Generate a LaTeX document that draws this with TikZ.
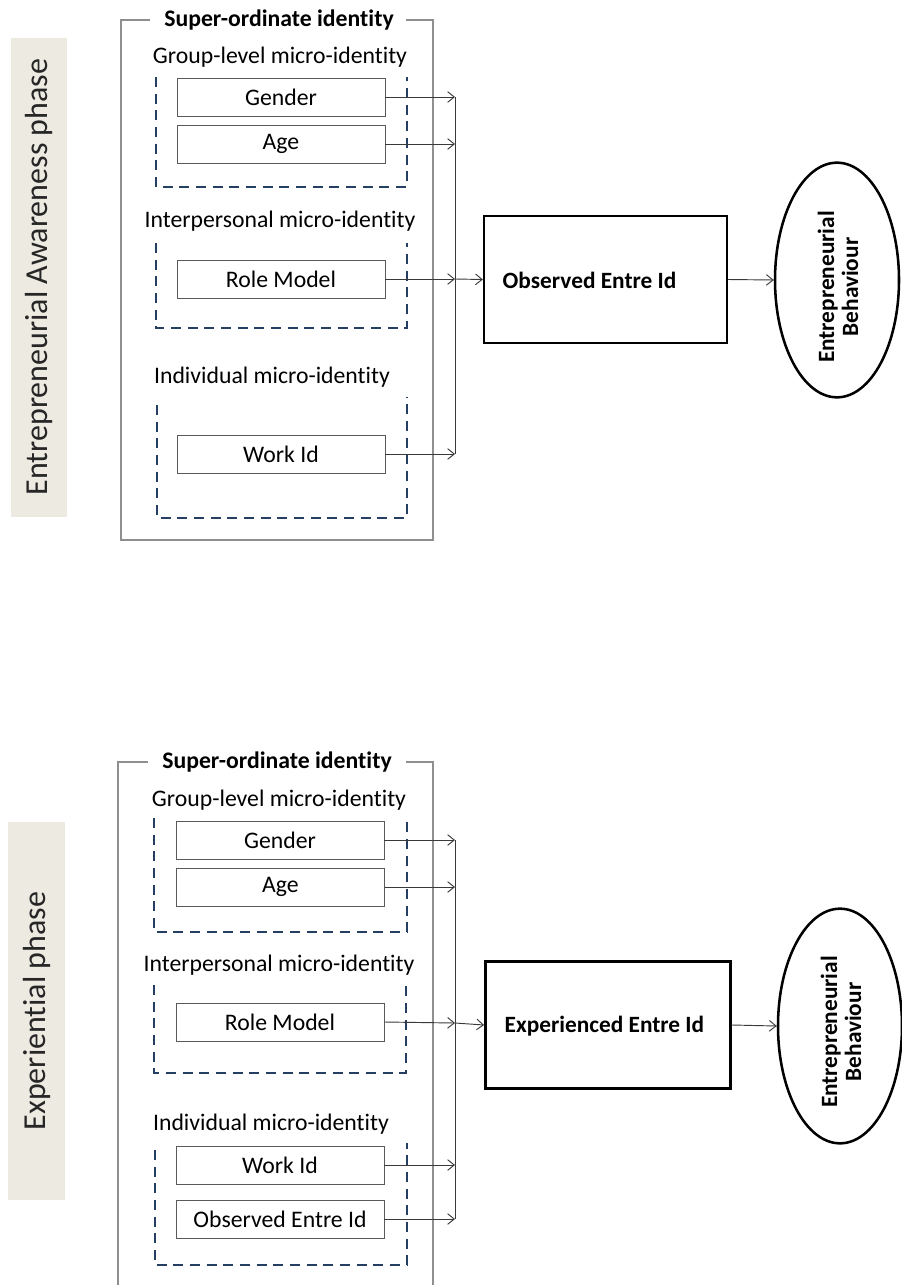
\documentclass[tikz,border=0pt]{standalone}
\usepackage{fontspec}
\setmainfont{Carlito}[Ligatures=NoCommon]
\usetikzlibrary{arrows.meta,shapes.geometric}
\definecolor{phasebg}{HTML}{ECEAE1}
\definecolor{outergrey}{HTML}{8F8F8F}
\definecolor{dashblue}{HTML}{243F62}
\definecolor{boxgrey}{HTML}{5A5A5A}
\definecolor{arrowgrey}{HTML}{3A3A3A}
\tikzset{
  phasebox/.style={fill=phasebg, draw=none},
  phasetext/.style={rotate=90, font=\fontsize{24}{28}\selectfont, text=black!85},
  outerline/.style={draw=outergrey, line width=1.4pt},
  titletext/.style={font=\fontsize{17.8}{21}\selectfont\bfseries},
  grouptext/.style={font=\fontsize{17.8}{21}\selectfont},
  dashline/.style={draw=dashblue, line width=1.5pt, dash pattern=on 7.5pt off 5pt},
  itembox/.style={draw=boxgrey, line width=0.7pt, minimum width=156pt, minimum height=28.5pt, inner sep=0pt, font=\fontsize{17.8}{21}\selectfont},
  conn/.style={draw=arrowgrey, line width=0.7pt, -{Straight Barb[length=5pt,width=8pt]}},
  plainconn/.style={draw=arrowgrey, line width=0.7pt},
  idbox/.style={draw=black, line width=1.9pt, minimum width=182pt, minimum height=95pt, inner sep=0pt},
  idtext/.style={font=\fontsize{17.5}{20}\selectfont\bfseries, anchor=west},
  behav/.style={draw=black, line width=1.9pt, ellipse, minimum width=93pt, minimum height=176pt, inner sep=0pt},
  behavtext/.style={rotate=90, font=\fontsize{17.5}{18}\selectfont\bfseries, align=center}
}
\begin{document}
\begin{tikzpicture}[x=0.75pt,y=-0.75pt]
\useasboundingbox (0,0) rectangle (901,1285);
% ================= TOP PANEL =================
\fill[phasebox] (11,38) rectangle (67,517);
\node[phasetext] (p1) at (39,277) {Entrepreneurial Awareness phase};
\draw[outerline] (150,20) -- (121,20) -- (121,540) -- (433,540) -- (433,20) -- (406,20);
\node[titletext] (t1) at (279,20) {Super-ordinate identity};
\node[grouptext] (g1) at (280,57) {Group-level micro-identity};
\draw[dashline] (156,77) -- (156,187) -- (407,187) -- (407,77);
\node[itembox] (gen1) at (281,97) {Gender};
\node[itembox] (age1) at (281,144) {Age};
\node[grouptext] (ip1) at (280,221) {Interpersonal micro-identity};
\draw[dashline] (156,243) -- (156,328) -- (407,328) -- (407,243);
\node[itembox] (rm1) at (281,279) {Role Model};
\node[grouptext] (ind1) at (272,377) {Individual micro-identity};
\draw[dashline] (157,405) -- (157,518) -- (407,518) -- (407,397);
\node[itembox] (wk1) at (281,454) {Work Id};
\coordinate (ja1) at (455,97);
\coordinate (jb1) at (455,144);
\coordinate (jc1) at (455,279);
\coordinate (jd1) at (455,454);
\draw[conn] (gen1.east) -- (ja1);
\draw[conn] (age1.east) -- (jb1);
\draw[conn] (rm1.east) -- (jc1);
\draw[conn] (wk1.east) -- (jd1);
\draw[plainconn] (ja1) -- (jd1);
\node[idbox] (obs) at (605.5,279.5) {};
\node[idtext] (obst) at (498,280) {Observed Entre Id};
\draw[conn] (jc1) -- (obs.west);
\node[behav] (eb1) at (837,280) {};
\node[behavtext] (eb1t) at (838,287) {Entrepreneurial\\Behaviour};
\draw[conn] (obs.east) -- (eb1.west);
% ================= BOTTOM PANEL =================
\fill[phasebox] (8,822) rectangle (65,1200);
\node[phasetext] (p2) at (37,1011) {Experiential phase};
\draw[outerline] (148,762) -- (118,762) -- (118,1292);
\draw[outerline] (433,1292) -- (433,762) -- (406,762);
\node[titletext] (t2) at (277,762) {Super-ordinate identity};
\node[grouptext] (g2) at (279,800) {Group-level micro-identity};
\draw[dashline] (154,818) -- (154,932) -- (407,932) -- (407,818);
\node[itembox] (gen2) at (280,840) {Gender};
\node[itembox] (age2) at (280.5,887) {Age};
\node[grouptext] (ip2) at (279,965) {Interpersonal micro-identity};
\draw[dashline] (154,985) -- (154,1073) -- (406,1073) -- (406,985);
\node[itembox] (rm2) at (280,1022) {Role Model};
\node[grouptext] (ind2) at (271,1124) {Individual micro-identity};
\draw[dashline] (155,1150) -- (155,1265) -- (407,1265) -- (407,1143);
\node[itembox] (wk2) at (280,1165) {Work Id};
\node[itembox] (oe2) at (280,1219) {Observed Entre Id};
\coordinate (ja2) at (455,840);
\coordinate (jb2) at (455,887);
\coordinate (jc2) at (455,1023);
\coordinate (jd2) at (455,1165);
\coordinate (je2) at (455,1219);
\draw[conn] (gen2.east) -- (ja2);
\draw[conn] (age2.east) -- (jb2);
\draw[conn] (rm2.east) -- (jc2);
\draw[conn] (wk2.east) -- (jd2);
\draw[conn] (oe2.east) -- (je2);
\draw[plainconn] (ja2) -- (je2);
\node[idbox, minimum width=184pt] (exp) at (608,1025) {};
\node[idtext] (expt) at (500,1026) {Experienced Entre Id};
\draw[conn] (jc2) -- (exp.west);
\node[behav] (eb2) at (840,1026) {};
\node[behavtext] (eb2t) at (841,1032) {Entrepreneurial\\Behaviour};
\draw[conn] (exp.east) -- (eb2.west);
\end{tikzpicture}
\end{document}
